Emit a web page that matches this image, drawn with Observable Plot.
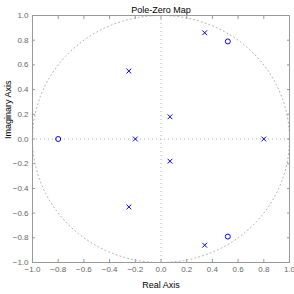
<!DOCTYPE html>
<html><head><meta charset="utf-8">
<script src="https://cdn.jsdelivr.net/npm/d3@7"></script>
<script src="https://cdn.jsdelivr.net/npm/@observablehq/plot@0.6"></script>
<style>body{margin:0;background:#fff}</style>
</head><body><div id="c"></div>
<script>
const poleRe = [0.34, -0.25, 0.07, -0.20, 0.80, 0.07, -0.25, 0.34];
const poleIm = [0.86, 0.55, 0.18, 0.00, 0.00, -0.18, -0.55, -0.86];
const zeroRe = [0.52, -0.80, 0.52];
const zeroIm = [0.79, 0.00, -0.79];
const xTicks = [-1, -0.8, -0.6, -0.4, -0.2, 0, 0.2, 0.4, 0.6, 0.8, 1];
const yTicks = [-1, -0.8, -0.6, -0.4, -0.2, 0, 0.2, 0.4, 0.6, 0.8, 1];
const title = "Pole-Zero Map";
const xLabel = "Real Axis";
const yLabel = "Imaginary Axis";

const poles = poleRe.map((r, i) => ({re: r, im: poleIm[i]}));
const zeros = zeroRe.map((r, i) => ({re: r, im: zeroIm[i]}));
const circle = d3.range(0, 361, 2).map(a => ({re: Math.cos(a * Math.PI / 180), im: Math.sin(a * Math.PI / 180)}));

const chart = Plot.plot({
  width: 294, height: 294,
  marginLeft: 32, marginRight: 5, marginTop: 15, marginBottom: 32,
  style: {fontFamily: "Liberation Sans, Arial, sans-serif", fontSize: "8px", background: "#fff"},
  x: {domain: [-1, 1]},
  y: {domain: [-1, 1]},
  marks: [
    Plot.line(circle, {x: "re", y: "im", stroke: "#b0b0b0", strokeWidth: 1, strokeDasharray: "1,3"}),
    Plot.ruleX([0], {stroke: "#b0b0b0", strokeDasharray: "1,3"}),
    Plot.ruleY([0], {stroke: "#b0b0b0", strokeDasharray: "1,3"}),
    Plot.frame({stroke: "#999"}),
    Plot.axisX({anchor: "bottom", ticks: xTicks, tickSize: -3, tickPadding: 7, stroke: "#999", color: "#666", label: null}),
    Plot.axisX({anchor: "top", ticks: xTicks, tickSize: -3, tickFormat: () => "", stroke: "#999", label: null}),
    Plot.axisY({anchor: "left", ticks: yTicks, tickSize: -3, tickPadding: 7, stroke: "#999", color: "#666", label: null}),
    Plot.axisY({anchor: "right", ticks: yTicks, tickSize: -3, tickFormat: () => "", stroke: "#999", label: null}),
    Plot.dot(poles, {x: "re", y: "im", symbol: "times", r: 2.3, stroke: "#0000ff", strokeWidth: 1}),
    Plot.dot(zeros, {x: "re", y: "im", symbol: "circle", r: 2.5, stroke: "#0000ff", strokeWidth: 1, fill: "none"}),
    Plot.text([title], {frameAnchor: "top", dy: -9, fill: "#000", fontSize: 9}),
    Plot.text([xLabel], {frameAnchor: "bottom", dy: 25, fill: "#000", fontSize: 9}),
    Plot.text([yLabel], {frameAnchor: "left", dx: -24, rotate: -90, fill: "#000", fontSize: 9})
  ]
});
document.getElementById("c").appendChild(chart);
</script></body></html>
